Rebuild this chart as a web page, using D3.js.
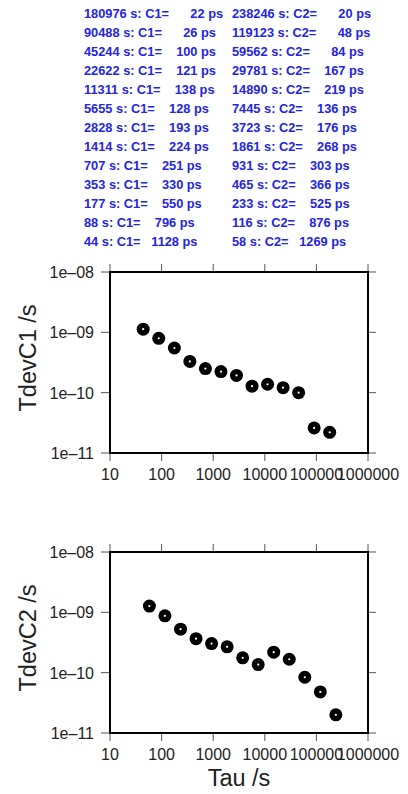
<!DOCTYPE html>
<html>
<head>
<meta charset="utf-8">
<script src="https://cdn.jsdelivr.net/npm/d3@7"></script>
<style>
  body { margin: 0; background: #fff; }
  svg { display: block; font-family: "Liberation Sans", Arial, sans-serif; }
</style>
</head>
<body>
<div id="chart"></div>
<script>
// tau values (s) and time deviation (ps) for both channels
var tauC1 = [44, 88, 177, 353, 707, 1414, 2828, 5655, 11311, 22622, 45244, 90488, 180976];
var tdevC1 = [1128, 796, 550, 330, 251, 224, 193, 128, 138, 121, 100, 26, 22];
var tauC2 = [58, 116, 233, 465, 931, 1861, 3723, 7445, 14890, 29781, 59562, 119123, 238246];
var tdevC2 = [1269, 876, 525, 366, 303, 268, 176, 136, 219, 167, 84, 48, 20];
var xTicks = [10, 100, 1000, 10000, 100000, 1000000];
var yTicks = [1e-11, 1e-10, 1e-9, 1e-8];
var yTickLabels = ["1e\u201311", "1e\u201310", "1e\u201309", "1e\u201308"];

var W = 408, H = 794;
var svg = d3.select("#chart").append("svg").attr("width", W).attr("height", H);

// blue listing at the top, largest tau first
var padBy = { 2: 6, 3: 4, 4: 3 }; // spaces before the value, by digit count
function listing(tau, dev, name, x0) {
  var rows = tau.map((t, i) => ({ t: t, v: dev[i] })).reverse();
  var g = svg.append("g");
  rows.forEach(function (d, i) {
    var pad = padBy[String(d.v).length] || 3;
    g.append("text")
      .attr("x", x0)
      .attr("y", 17.5 + i * 19)
      .attr("fill", "#2424e6")
      .style("font-size", "12.8px")
      .style("font-weight", "bold")
      .style("white-space", "pre")
      .text(d.t + " s: " + name + "=" + " ".repeat(pad) + d.v + " ps");
  });
}
listing(tauC1, tdevC1, "C1", 84);
listing(tauC2, tdevC2, "C2", 232);

var left = 110, right = 368;
var x = d3.scaleLog().domain([10, 1000000]).range([left, right]);

function panel(top, tau, dev, title) {
  var bottom = top + 181;
  var y = d3.scaleLog().domain([1e-11, 1e-8]).range([bottom, top]);
  var g = svg.append("g");

  // outward ticks on all four sides
  g.selectAll(".xt").data(xTicks).enter().append("line")
    .attr("x1", (d) => x(d)).attr("x2", (d) => x(d))
    .attr("y1", bottom).attr("y2", bottom + 8)
    .attr("stroke", "#555").attr("stroke-width", 1);
  g.selectAll(".xt2").data(xTicks).enter().append("line")
    .attr("x1", (d) => x(d)).attr("x2", (d) => x(d))
    .attr("y1", top).attr("y2", top - 8)
    .attr("stroke", "#555").attr("stroke-width", 1);
  g.selectAll(".yt").data(yTicks).enter().append("line")
    .attr("x1", left - 9).attr("x2", left)
    .attr("y1", (d) => y(d)).attr("y2", (d) => y(d))
    .attr("stroke", "#555").attr("stroke-width", 1);
  g.selectAll(".yt2").data(yTicks).enter().append("line")
    .attr("x1", right).attr("x2", right + 8)
    .attr("y1", (d) => y(d)).attr("y2", (d) => y(d))
    .attr("stroke", "#555").attr("stroke-width", 1);

  g.append("rect")
    .attr("x", left).attr("y", top)
    .attr("width", right - left).attr("height", bottom - top)
    .attr("fill", "none").attr("stroke", "#000").attr("stroke-width", 2);

  g.selectAll(".xl").data(xTicks).enter().append("text")
    .attr("x", (d) => x(d)).attr("y", bottom + 27)
    .attr("text-anchor", "middle")
    .attr("fill", "#222")
    .style("font-size", "16px")
    .text((d) => d);
  g.selectAll(".yl").data(yTicks).enter().append("text")
    .attr("x", left - 16).attr("y", (d) => y(d) + 6)
    .attr("text-anchor", "end")
    .attr("fill", "#222")
    .style("font-size", "16px")
    .text((d, i) => yTickLabels[i]);

  g.append("text")
    .attr("transform", "translate(36," + (top + 86) + ") rotate(-90)")
    .attr("text-anchor", "middle")
    .attr("fill", "#222")
    .style("font-size", "23.5px")
    .text(title);

  var pts = tau.map((t, i) => ({ t: t, v: dev[i] * 1e-12 }));
  g.selectAll(".pt").data(pts).enter().append("circle")
    .attr("cx", (d) => x(d.t)).attr("cy", (d) => y(d.v))
    .attr("r", 6.5).attr("fill", "#000");
  g.selectAll(".pc").data(pts).enter().append("circle")
    .attr("cx", (d) => x(d.t)).attr("cy", (d) => y(d.v))
    .attr("r", 1.1).attr("fill", "#fff");
}

panel(272, tauC1, tdevC1, "TdevC1 /s");
panel(552, tauC2, tdevC2, "TdevC2 /s");

svg.append("text")
  .attr("x", (left + right) / 2).attr("y", 786)
  .attr("text-anchor", "middle")
  .attr("fill", "#222")
  .style("font-size", "23.5px")
  .text("Tau /s");
</script>
</body>
</html>
